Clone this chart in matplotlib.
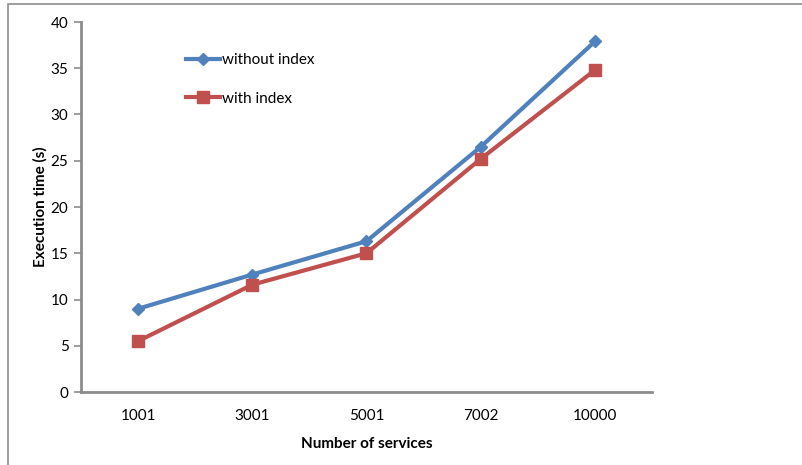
import matplotlib.pyplot as plt
from matplotlib.patches import Rectangle

# services in each run and measured execution times (s)
services = ["1001", "3001", "5001", "7002", "10000"]
without_index = [9.0, 12.7, 16.3, 26.5, 37.9]
with_index = [5.5, 11.6, 15.0, 25.2, 34.8]

plt.rcParams['font.family'] = ['Lato', 'DejaVu Sans']

W, H = 803, 465
fig = plt.figure(figsize=(W / 100, H / 100), dpi=100)

# outer chart frame
fig.patches.append(Rectangle((8 / W, -0.1), 1.2, (H - 4) / H + 0.1, transform=fig.transFigure,
                             fill=False, edgecolor='#8c8c8c', linewidth=1.2))

ax = fig.add_axes([81 / W, 1 - 392 / H, (652 - 81) / W, (392 - 22) / H])

x = range(len(services))
ax.plot(x, without_index, color='#4F81BD', lw=3, marker='D', ms=6.5,
        label='without index', solid_joinstyle='round')
ax.plot(x, with_index, color='#C0504D', lw=3, marker='s', ms=8,
        label='with index', solid_joinstyle='round')

ax.set_xlim(-0.5, len(services) - 0.5)
ax.set_ylim(0, 40)
ax.set_yticks(range(0, 41, 5))
ax.set_xticks(list(x))
ax.set_xticklabels(services)

for side in ('top', 'right'):
    ax.spines[side].set_visible(False)
for side in ('left', 'bottom'):
    ax.spines[side].set_color('#8c8c8c')
    ax.spines[side].set_linewidth(2)

ax.tick_params(axis='y', length=5, width=1.2, color='#8c8c8c', labelsize=11, pad=4)
ax.tick_params(axis='x', length=0, labelsize=11, pad=12)

ax.set_xlabel('Number of services', fontsize=11, fontweight='bold', labelpad=10)
ax.set_ylabel('Execution time (s)', fontsize=11, fontweight='bold', labelpad=2)

ax.legend(loc='upper left', bbox_to_anchor=(180 / W, 1 - 47 / H), bbox_transform=fig.transFigure,
          frameon=False, fontsize=11, handlelength=2.2, handletextpad=0.15,
          labelspacing=1.6, borderaxespad=0)

fig.savefig('out.png', dpi=100)
